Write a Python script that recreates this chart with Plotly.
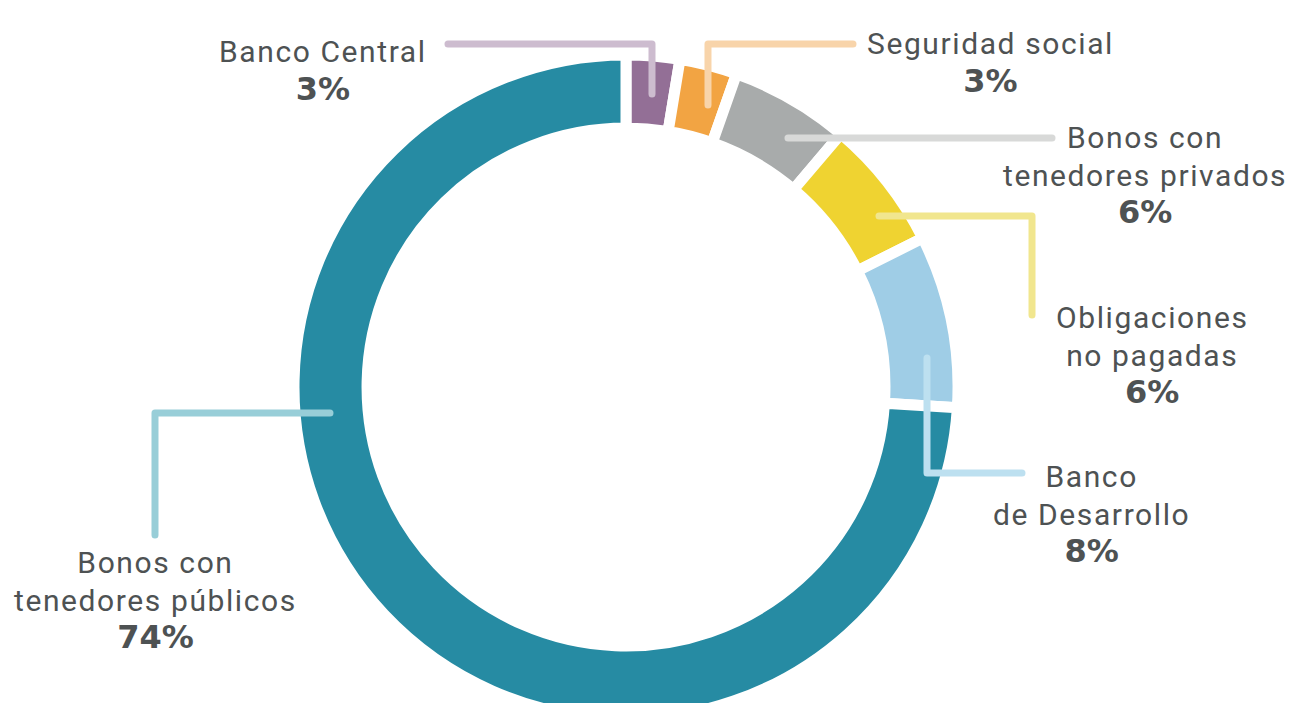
import plotly.graph_objects as go

# ---- data ----
categories = ["Banco Central", "Seguridad social", "Bonos con tenedores privados",
              "Obligaciones no pagadas", "Banco de Desarrollo", "Bonos con tenedores públicos"]
values = [2.6, 2.8, 5.8, 6.4, 8.4, 74.0]
name_lines = [["Banco Central"], ["Seguridad social"], ["Bonos con", "tenedores privados"],
              ["Obligaciones", "no pagadas"], ["Banco", "de Desarrollo"],
              ["Bonos con", "tenedores públicos"]]
slice_colors = ["#936f96", "#f2a443", "#a8abab", "#efd331", "#9fcde6", "#268ba3"]
leader_colors = ["#cdbccf", "#f8d4aa", "#d8d9d8", "#f1e68e", "#bde0f0", "#98ced8"]

# ---- layout geometry (pixels) ----
W, H = 1313, 720
CX, CY, R = 626, 387, 332
label_x = [323, 990, 1145, 1152, 1091, 155]
first_base = [61, 53, 147, 327, 486, 572]
leaders = [
    [("M", 448, 44), ("L", 652, 44), ("L", 652, 94)],
    [("M", 853, 44), ("L", 708, 44), ("L", 708, 105)],
    [("M", 788, 138), ("L", 1052, 138)],
    [("M", 879, 216), ("L", 1032, 216), ("L", 1032, 315)],
    [("M", 927, 358), ("L", 927, 473), ("L", 1022, 473)],
    [("M", 330, 413), ("L", 155, 413), ("L", 155, 535)],
]

def px(x):
    return x / W

def py(y):
    return 1 - y / H

TEXT_COLOR = "#4e5253"
BASE_SIZE = 29        # controls line spacing (1.3 x size)
REG_SIZE = 30
BOLD_SIZE = 32

fig = go.Figure(go.Pie(
    labels=categories,
    values=values,
    sort=False,
    direction="clockwise",
    rotation=0,
    hole=0.78,
    marker=dict(colors=slice_colors, line=dict(color="white", width=11)),
    textinfo="none",
    hoverinfo="label+percent",
    showlegend=False,
    domain=dict(x=[px(CX - R), px(CX + R)], y=[py(CY + R), py(CY - R)]),
))

shapes = []
for segs, col in zip(leaders, leader_colors):
    path = " ".join(f"{c}{px(x):.5f},{py(y):.5f}" for c, x, y in segs)
    shapes.append(dict(type="path", path=path, xref="paper", yref="paper",
                       line=dict(color=col, width=7), layer="above"))

annotations = []
for i in range(len(categories)):
    lines = [f'<span style="font-size:{REG_SIZE}px;letter-spacing:1.6px">{t}</span>'
             for t in name_lines[i]]
    lines.append(f'<span style="font-family:DejaVu Sans;font-size:{BOLD_SIZE}px">'
                 f'<b>{round(values[i])}%</b></span>')
    annotations.append(dict(
        text="<br>".join(lines), x=px(label_x[i]),
        y=py(first_base[i] - 0.928 * REG_SIZE),
        xref="paper", yref="paper", xanchor="center", yanchor="top", align="center",
        borderpad=0, showarrow=False,
        font=dict(family="Roboto", size=BASE_SIZE, color=TEXT_COLOR)))

fig.update_layout(
    width=W, height=H,
    margin=dict(l=0, r=0, t=0, b=0),
    paper_bgcolor="white", plot_bgcolor="white",
    shapes=shapes, annotations=annotations,
)

post = """
document.body.style.margin='0';
document.body.style.overflow='hidden';
document.documentElement.style.overflow='hidden';
var gd=document.getElementById('{plot_id}');
gd.style.height='703px';
gd.style.overflow='hidden';
document.querySelectorAll('.shapelayer path').forEach(function(p){
  p.style.strokeLinecap='round'; p.style.strokeLinejoin='round';
});
"""
fig.write_html("out.html", post_script=post, config={"displayModeBar": False})
